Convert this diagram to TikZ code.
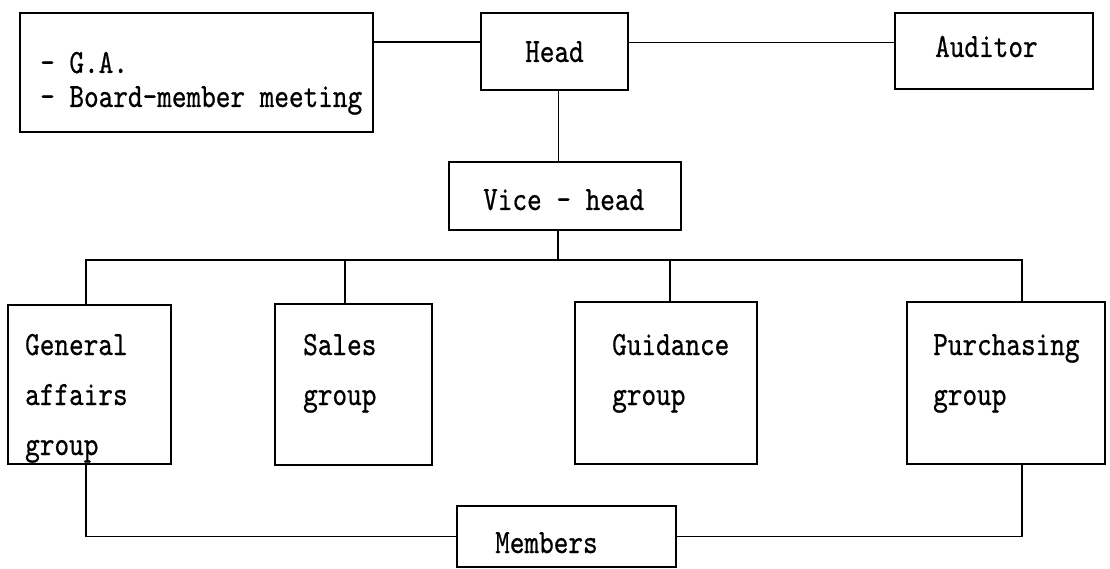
\documentclass[tikz,border=0pt]{standalone}
\usepackage{fontspec}
\newfontfamily\typ[FakeStretch=0.82,FakeBold=0.6]{lmmono10-regular.otf}
\begin{document}
\begin{tikzpicture}[x=1pt,y=-1pt,
  box/.style={draw, line width=1.7pt, inner sep=0pt},
  txt/.style={inner sep=0pt, anchor=base west, font=\typ\fontsize{34}{50}\selectfont},
  link/.style={line width=1.7pt}]
\useasboundingbox (0,0) rectangle (1110,569);
% boxes
\node[box, minimum width=353pt, minimum height=119pt] (ga) at (196.5,72.5) {};
\node[box, minimum width=147pt, minimum height=77pt] (head) at (554.5,51.5) {};
\node[box, minimum width=198pt, minimum height=76pt] (aud) at (994,51) {};
\node[box, minimum width=232pt, minimum height=68pt] (vice) at (565,196) {};
\node[box, minimum width=163pt, minimum height=159pt] (gaf) at (89.5,384.5) {};
\node[box, minimum width=157pt, minimum height=161pt] (sales) at (353.5,384.5) {};
\node[box, minimum width=182pt, minimum height=162pt] (guid) at (666,383) {};
\node[box, minimum width=198pt, minimum height=162pt] (pur) at (1006,383) {};
\node[box, minimum width=219pt, minimum height=61pt] (mem) at (566.5,536.5) {};
% texts
\node[txt, font=\typ\fontsize{34}{34}\selectfont] (ga-t) at (40,73) {\vtop{\hbox{- G.A.}\hbox{- Board-member meeting}}};
\node[txt] (head-t) at (525,62) {Head};
\node[txt] (aud-t) at (935,57) {Auditor};
\node[txt] (vice-t) at (483,210) {Vice - head};
\node[txt] (gaf-t) at (25,355) {\vtop{\hbox{General}\hbox{affairs}\hbox{group}}};
\node[txt] (sales-t) at (303,355) {\vtop{\hbox{Sales}\hbox{group}}};
\node[txt] (guid-t) at (612,355) {\vtop{\hbox{Guidance}\hbox{group}}};
\node[txt] (pur-t) at (933,355) {\vtop{\hbox{Purchasing}\hbox{group}}};
\node[txt] (mem-t) at (495,553) {Members};
% bus coordinates
\coordinate (busL) at (86,260);
\coordinate (busR) at (1022,260);
\coordinate (sdrop) at (345,260);
\coordinate (gdrop) at (670,260);
% connectors
\draw[link] ([yshift=9.5pt]head.west) -- ([yshift=9.5pt]head.west -| ga.east);
\draw[link] ([yshift=9pt]head.east) -- ([yshift=9pt]head.east -| aud.west);
\draw[link] ([xshift=4pt]head.south) -- ([xshift=4pt]head.south |- vice.north);
\draw[link] ([xshift=-7pt]vice.south) -- ([xshift=-7pt]vice.south |- busL);
\draw[link] (gaf.north -| busL) |- (busR) -- (busR |- pur.north);
\draw[link] (sdrop) -- (sdrop |- sales.north);
\draw[link] (gdrop) -- (gdrop |- guid.north);
\draw[link] (gaf.south -| busL) |- (mem.west);
\draw[link] (pur.south -| busR) |- (mem.east);
\end{tikzpicture}
\end{document}
